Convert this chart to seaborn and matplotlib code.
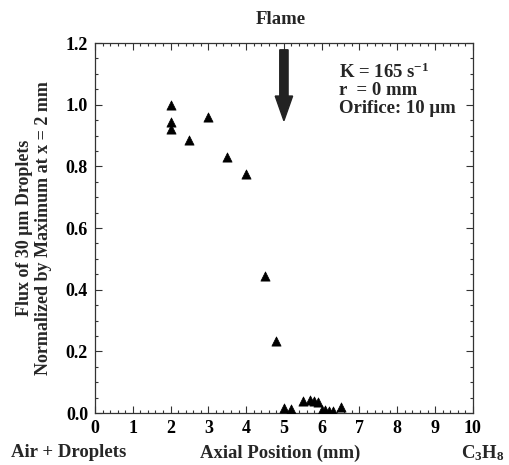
import matplotlib
matplotlib.use("Agg")
import matplotlib.pyplot as plt
from matplotlib.ticker import MultipleLocator, FormatStrFormatter
import seaborn as sns
import pandas as pd

# Axial position (mm) and normalized 30 um droplet flux
position = [2.0, 2.0, 2.0, 2.5, 3.0, 3.5, 4.0, 4.5, 4.8,
            5.0, 5.2, 5.5, 5.7, 5.8, 5.9, 6.0, 6.1, 6.2, 6.3, 6.5]
flux = [1.0, 0.945, 0.92, 0.885, 0.96, 0.83, 0.775, 0.445, 0.235,
        0.015, 0.012, 0.038, 0.043, 0.040, 0.035, 0.010, 0.010, 0.008, 0.005, 0.018]

x_ticks = [0, 1, 2, 3, 4, 5, 6, 7, 8, 9, 10]
y_ticks = [0.0, 0.2, 0.4, 0.6, 0.8, 1.0, 1.2]

df = pd.DataFrame({"position": position, "flux": flux})

sns.set_style("ticks")
plt.rcParams["font.family"] = ["Liberation Serif", "DejaVu Serif"]
plt.rcParams["font.weight"] = "bold"
plt.rcParams["mathtext.fontset"] = "custom"
plt.rcParams["mathtext.rm"] = "Liberation Serif:bold"
plt.rcParams["mathtext.bf"] = "Liberation Serif:bold"
plt.rcParams["mathtext.default"] = "bf"

fig = plt.figure(figsize=(5.09, 4.65), dpi=100)
ax = fig.add_axes([0.1866, 0.1118, 0.7424, 0.7957])

sns.scatterplot(data=df, x="position", y="flux", marker="^", s=44,
                color="black", edgecolor="black", linewidth=0.5, ax=ax, zorder=3)

ax.set_xlim(x_ticks[0], x_ticks[-1])
ax.set_ylim(y_ticks[0], y_ticks[-1])
ax.set_xticks(x_ticks)
ax.set_yticks(y_ticks)
ax.xaxis.set_minor_locator(MultipleLocator(0.2))
ax.yaxis.set_minor_locator(MultipleLocator(0.05))
ax.yaxis.set_major_formatter(FormatStrFormatter("%.1f"))
ax.tick_params(which="both", direction="in", top=True, right=True,
               colors="#333333", width=0.8, labelcolor="black", labelsize=13)
ax.tick_params(which="major", length=5, pad=5)
ax.tick_params(which="minor", length=2.5)
for lab in ax.get_xticklabels() + ax.get_yticklabels():
    lab.set_fontweight("bold")
for sp in ax.spines.values():
    sp.set_linewidth(0.9)
    sp.set_color("#333333")

ax.set_xlabel("")
ax.set_ylabel("Flux of 30 \u03bcm Droplets\nNormalized by Maximum at x = 2 mm",
              fontsize=13, fontweight="bold", linespacing=1.15, labelpad=10)

# Flame location marker
ax.arrow(5.0, 1.178, 0, -0.15, width=0.22, head_width=0.46, head_length=0.08,
         length_includes_head=False, color="#222222", zorder=4)

ax.text(6.45, 1.105, "K = 165 s$^{-1}$", fontsize=13.5, fontweight="bold", va="center")
ax.text(6.45, 1.047, "r  = 0 mm", fontsize=13.5, fontweight="bold", va="center")
ax.text(6.45, 0.989, "Orifice: 10 \u03bcm", fontsize=13.5, fontweight="bold", va="center")

fig.text(0.551, 0.958, "Flame", ha="center", va="center", fontsize=13.5, fontweight="bold")
fig.text(0.551, 0.026, "Axial Position (mm)", ha="center", va="center", fontsize=13.5, fontweight="bold")
fig.text(0.022, 0.026, "Air + Droplets", ha="left", va="center", fontsize=13.5, fontweight="bold")
fig.text(0.992, 0.026, "C$_{3}$H$_{8}$", ha="right", va="center", fontsize=13.5, fontweight="bold")

fig.savefig("out.png", dpi=100)
